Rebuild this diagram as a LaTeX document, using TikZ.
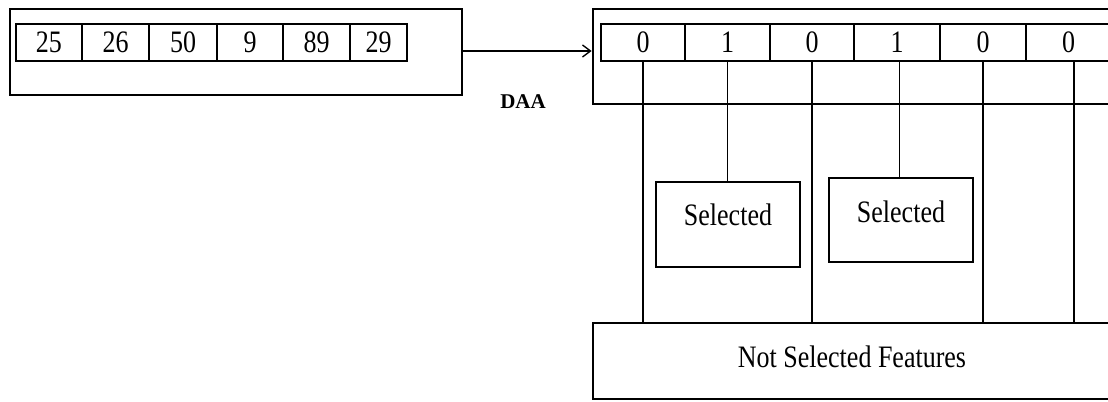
\documentclass[tikz,border=0pt]{standalone}
\usepackage{fontspec}
\setmainfont{Liberation Serif}
\usetikzlibrary{arrows.meta}
\newcommand{\tallt}[1]{\scalebox{1}[1.2]{#1}}
\tikzset{
  outerbox/.style={draw, line width=2.1pt, minimum width=#1, inner sep=0pt},
  cell/.style={draw, line width=1pt, minimum width=#1, minimum height=27.75pt, inner sep=0pt,
     font=\fontsize{19.5}{22}\selectfont},
  selbox/.style={draw, line width=2.1pt, minimum width=108pt, inner sep=0pt},
  conn/.style={line width=1pt},
  arr/.style={line width=1pt, -{Straight Barb[length=6pt,width=9pt]}},
  lbl/.style={font=\fontsize{19.5}{22}\selectfont}
}
\begin{document}
\begin{tikzpicture}[x=0.75pt, y=-0.75pt]
\useasboundingbox (0,0) rectangle (1108,401);
\clip (0,0) rectangle (1108,401);
% left input box
\node[outerbox=339pt, minimum height=64.5pt] (L) at (236,52) {};
\node[cell=49.5pt]  (a1) at (49,42.5)    {\tallt{25}};
\node[cell=50.25pt] (a2) at (115.5,42.5) {\tallt{26}};
\node[cell=51pt]    (a3) at (183,42.5)   {\tallt{50}};
\node[cell=49.5pt]  (a4) at (250,42.5)   {\tallt{9}};
\node[cell=50.25pt] (a5) at (316.5,42.5) {\tallt{89}};
\node[cell=42.75pt] (a6) at (378.5,42.5) {\tallt{29}};
% right output box
\node[outerbox=391.5pt, minimum height=71.25pt] (R) at (854,56.5) {};
\node[cell=63pt]    (r1) at (643,42.5)    {\tallt{0}};
\node[cell=63.75pt] (r2) at (727.5,42.5)  {\tallt{1}};
\node[cell=63pt]    (r3) at (812,42.5)    {\tallt{0}};
\node[cell=64.5pt]  (r4) at (897,42.5)    {\tallt{1}};
\node[cell=64.5pt]  (r5) at (983,42.5)    {\tallt{0}};
\node[cell=63.75pt] (r6) at (1068.5,42.5) {\tallt{0}};
% arrow and label
\draw[arr] (L.east |- 0,51) -- (R.west |- 0,51);
\node[font=\fontsize{15.75}{18}\selectfont\bfseries] (daa) at (523,102) {DAA};
% selected boxes
\node[selbox, minimum height=63.75pt, label={[lbl, yshift=7pt]center:\tallt{Selected}}] (s1) at (728,224.5) {};
\node[selbox, minimum height=63pt, label={[lbl, yshift=6pt]center:\tallt{Selected}}] (s2) at (901,220) {};
% not selected
\node[outerbox=391.5pt, minimum height=57pt, label={[lbl, yshift=3pt, xshift=-1.5pt]center:\tallt{Not Selected Features}}] (ns) at (854,361) {};
% connectors
\draw[conn] (r1.south) -- (r1.south |- ns.north);
\draw[conn] (r2.south) -- (r2.south |- s1.north);
\draw[conn] (r3.south) -- (r3.south |- ns.north);
\draw[conn] ([xshift=2pt]r4.south) -- ([xshift=2pt]r4.south |- s2.north);
\draw[conn] (r5.south) -- (r5.south |- ns.north);
\draw[conn] ([xshift=4pt]r6.south) -- ([xshift=4pt]r6.south |- ns.north);
\end{tikzpicture}
\end{document}
